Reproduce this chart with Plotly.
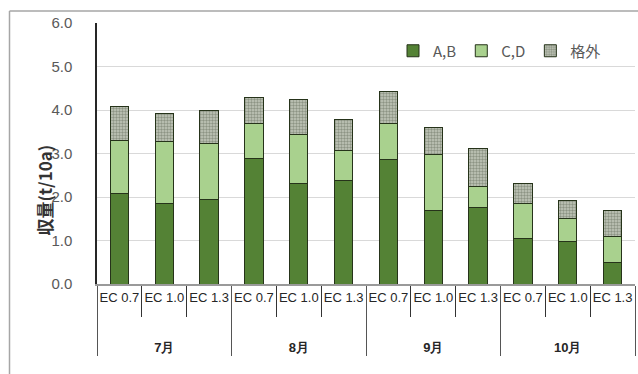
import plotly.graph_objects as go

# Harvest yield (t/10a) by month and EC level, split by grade
months = ["7月", "8月", "9月", "10月"]
ec_levels = ["EC 0.7", "EC 1.0", "EC 1.3"]

grade_ab = [2.08, 1.84, 1.95, 2.89, 2.31, 2.37, 2.87, 1.70, 1.75, 1.05, 0.97, 0.49]
grade_cd = [1.23, 1.43, 1.27, 0.79, 1.12, 0.71, 0.81, 1.27, 0.50, 0.79, 0.54, 0.60]
off_grade = [0.78, 0.65, 0.78, 0.61, 0.82, 0.70, 0.74, 0.63, 0.87, 0.47, 0.42, 0.60]

series_names = ["A,B", "C,D", "格外"]

# inner labels get trailing blank lines so the month row sits lower
ec_labels = [e + "<br> <br> " for e in ec_levels]
month_labels = ["<b>" + m + "</b>" for m in months]
x_month = [m for m in month_labels for _ in ec_labels]
x_ec = [e for _ in month_labels for e in ec_labels]

W, H = 638, 374
L, R, T, B = 97, 3, 23, 90
pw, ph = W - L - R, H - T - B


def px_x(px):
    return (px - L) / pw


def px_y(py):
    return (H - B - py) / ph


outline = dict(color="#26331a", width=1)
jp_font = "Noto Sans CJK JP"

fig = go.Figure()
fig.add_trace(go.Bar(
    x=[x_month, x_ec], y=grade_ab, name=series_names[0],
    marker=dict(color="#548235", line=outline),
))
fig.add_trace(go.Bar(
    x=[x_month, x_ec], y=grade_cd, name=series_names[1],
    marker=dict(color="#a9d18e", line=outline),
))
fig.add_trace(go.Bar(
    x=[x_month, x_ec], y=off_grade, name=series_names[2],
    marker=dict(
        color="#a3aa99", line=outline,
        pattern=dict(shape=".", fgcolor="#56604c", bgcolor="#c4c9bc",
                     size=3, solidity=0.5),
    ),
))

fig.update_layout(
    width=W, height=H,
    margin=dict(l=L, r=R, t=T, b=B),
    barmode="stack",
    bargap=0.59,
    plot_bgcolor="white",
    paper_bgcolor="white",
    font=dict(family=jp_font, color="#404040"),
    showlegend=True,
    legend=dict(
        orientation="h", x=px_x(606), xanchor="right",
        y=px_y(51), yanchor="middle",
        font=dict(size=15, color="#595959", family=jp_font),
        itemwidth=30, traceorder="normal",
        bgcolor="rgba(0,0,0,0)",
    ),
    xaxis=dict(
        type="multicategory",
        tickangle=0,
        showline=True, linecolor="#9a9a9a", linewidth=2,
        ticks="outside", ticklen=31, tickcolor="#333333", tickwidth=1,
        tickfont=dict(size=13, family="Liberation Sans", color="#262626"),
        showdividers=True, dividercolor="#555555", dividerwidth=1,
        showgrid=False,
    ),
    yaxis=dict(
        range=[0, 6], dtick=1, tickformat=".1f",
        showline=True, linecolor="#262626", linewidth=1.5,
        showgrid=True, gridcolor="#d9d9d9", gridwidth=1,
        zeroline=False,
        ticks="", ticklabelstandoff=20,
        tickfont=dict(size=15, color="#595959", family="Liberation Sans"),
    ),
    annotations=[dict(
        text="<b>収量(t/10a)</b>", textangle=-90,
        xref="paper", yref="paper", x=px_x(29), y=px_y(190),
        showarrow=False, font=dict(size=17, color="#333333", family=jp_font),
    )],
    shapes=[
        dict(type="line", xref="paper", yref="paper",
             x0=px_x(9.5), x1=px_x(640), y0=px_y(11), y1=px_y(11),
             line=dict(color="#a6a6a6", width=1.5)),
        dict(type="line", xref="paper", yref="paper",
             x0=px_x(9.5), x1=px_x(9.5), y0=px_y(11), y1=px_y(376),
             line=dict(color="#a6a6a6", width=1.5)),
    ],
)

fig.write_html("out.html")
